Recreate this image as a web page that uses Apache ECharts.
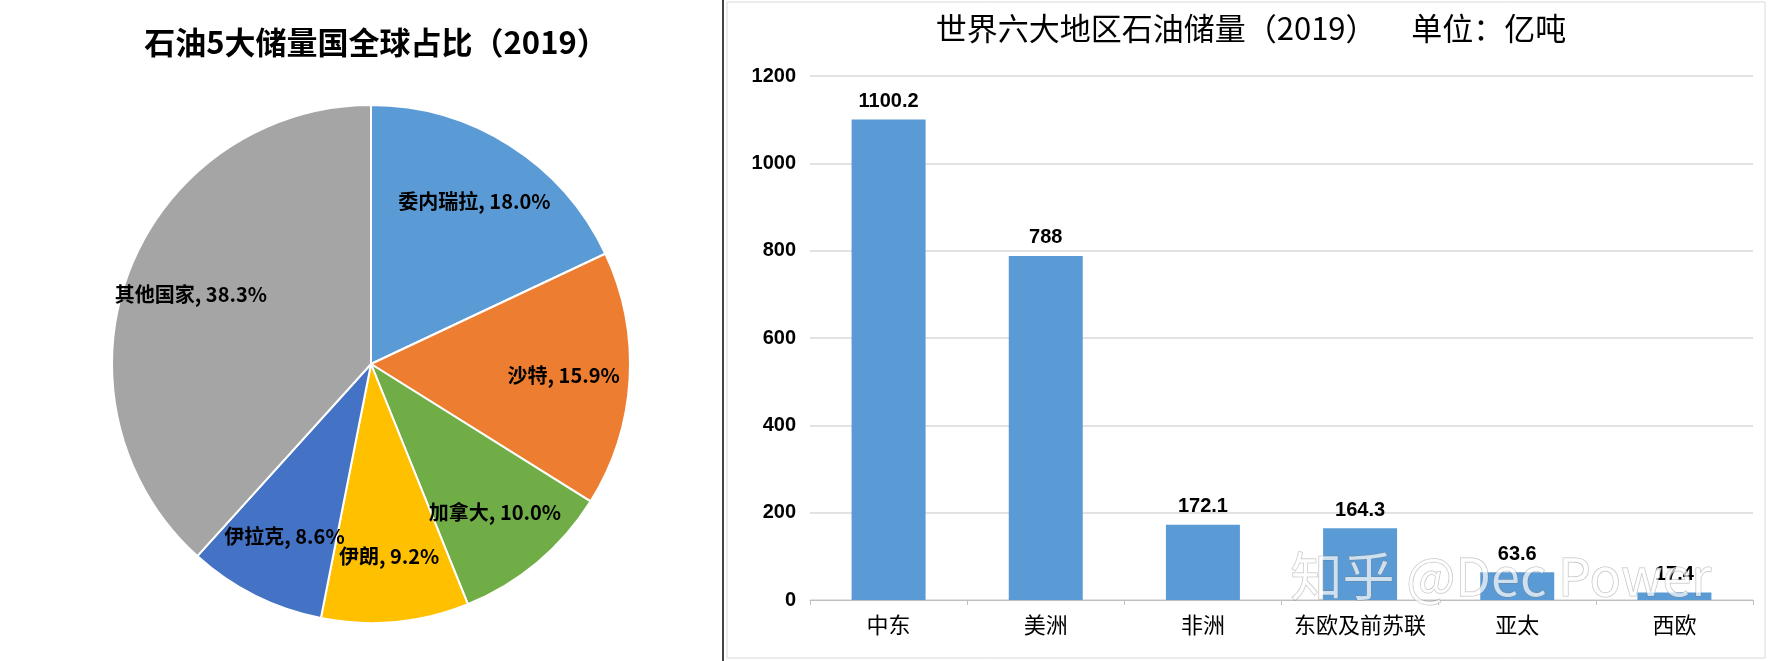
<!DOCTYPE html>
<html lang="zh">
<head>
<meta charset="UTF-8">
<title>石油储量</title>
<script src="https://cdn.jsdelivr.net/npm/echarts@6/dist/echarts.min.js"></script>
<style>
body{margin:0;background:#fff;}
#main{width:1768px;height:661px;}
</style>
</head>
<body>
<div id="main"></div>
<script>
var countries = ['委内瑞拉', '沙特', '加拿大', '伊朗', '伊拉克', '其他国家'];
var shares = [18.0, 15.9, 10.0, 9.2, 8.6, 38.3];
var pieColors = ['#5b9bd5', '#ed7d31', '#70ad47', '#ffc000', '#4472c4', '#a5a5a5'];

var regions = ['中东', '美洲', '非洲', '东欧及前苏联', '亚太', '西欧'];
var reserves = [1100.2, 788, 172.1, 164.3, 63.6, 17.4];

var font = '"Noto Sans CJK SC", "Liberation Serif", serif';
var chart = echarts.init(document.getElementById('main'));
chart.setOption({
    animation: false,
    title: [
        {text: '石油5大储量国全球占比（2019）', left: 371, top: 22, textAlign: 'center',
         textStyle: {fontSize: 31, fontWeight: 'bold', color: '#000', fontFamily: font}},
        {text: '世界六大地区石油储量（2019）     单位：亿吨', left: 1246, top: 8, textAlign: 'center',
         textStyle: {fontSize: 31, fontWeight: 'normal', color: '#000', fontFamily: font}}
    ],
    graphic: [
        {type: 'line', shape: {x1: 723, y1: 0, x2: 723, y2: 661}, style: {stroke: '#444', lineWidth: 2}},
        {type: 'rect', shape: {x: 727, y: 2, width: 1038, height: 656}, style: {fill: 'none', stroke: '#d9d9d9', lineWidth: 1}},
        {type: 'text', left: 1290, top: 550, z: 10,
         style: {text: '知乎 @Dec Power', fontSize: 52, fill: 'rgba(255,255,255,0.7)', stroke: 'rgba(110,110,110,0.45)', lineWidth: 1, fontFamily: font}}
    ],
    grid: {left: 810, right: 15, top: 76, bottom: 61},
    xAxis: {
        type: 'category', data: regions,
        axisLine: {lineStyle: {color: '#bfbfbf'}},
        axisTick: {show: true, lineStyle: {color: '#bfbfbf'}},
        axisLabel: {interval: 0, color: '#000', fontSize: 22, margin: 14, fontFamily: font}
    },
    yAxis: {
        type: 'value', min: 0, max: 1200, interval: 200,
        axisLine: {show: false}, axisTick: {show: false},
        splitLine: {lineStyle: {color: '#d9d9d9', width: 1.5}},
        axisLabel: {color: '#000', fontSize: 20, fontWeight: 'bold', margin: 14, fontFamily: 'Liberation Sans',
                    formatter: function (v) { return String(v); }}
    },
    series: [
        {
            type: 'bar', data: reserves, barWidth: 74,
            itemStyle: {color: '#5b9bd5'},
            label: {show: true, position: 'top', distance: 8, color: '#000', fontSize: 20, fontWeight: 'bold', fontFamily: 'Liberation Sans'}
        },
        {
            type: 'pie', center: [371, 364], radius: 259, startAngle: 90, clockwise: true,
            data: countries.map(function (c, i) {
                return {name: c, value: shares[i], itemStyle: {color: pieColors[i]}};
            }),
            itemStyle: {borderColor: '#fff', borderWidth: 2},
            label: {show: false},
            labelLine: {show: false}
        },
        {
            // transparent ring only used to place labels further out
            type: 'pie', center: [371, 364], radius: [150, 230], startAngle: 90, clockwise: true, silent: true,
            data: countries.map(function (c, i) {
                return {name: c, value: shares[i]};
            }),
            itemStyle: {color: 'rgba(0,0,0,0)'},
            labelLayout: {hideOverlap: false},
            label: {
                position: 'inside', color: '#000', fontSize: 20, fontWeight: 'bold', fontFamily: font,
                formatter: function (p) { return p.name + ', ' + p.value.toFixed(1) + '%'; }
            },
            labelLine: {show: false}
        }
    ]
});
</script>
</body>
</html>
